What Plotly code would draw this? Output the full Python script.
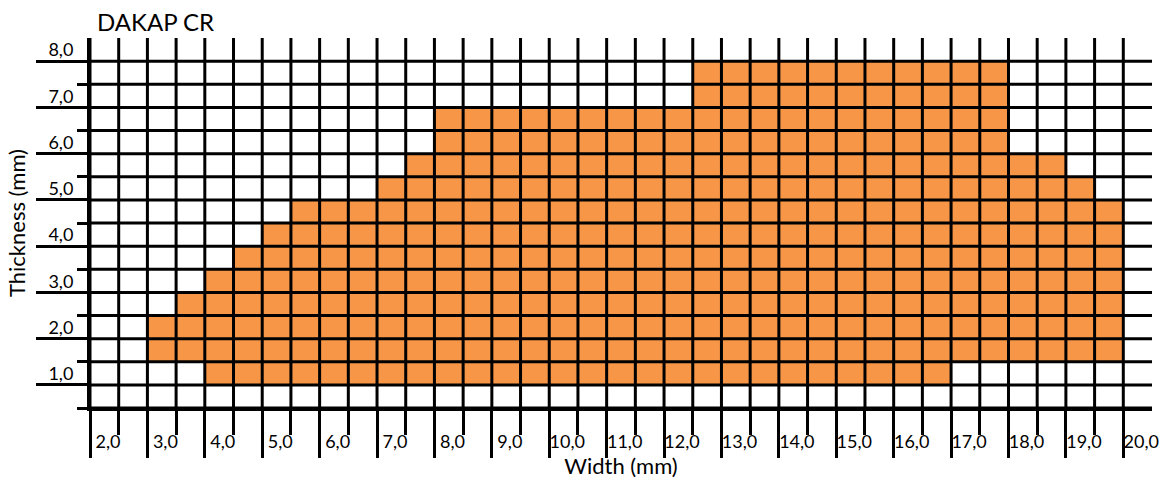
import plotly.graph_objects as go

# ---- data ----
widths = [2.0, 2.5, 3.0, 3.5, 4.0, 4.5, 5.0, 5.5, 6.0, 6.5, 7.0, 7.5, 8.0, 8.5, 9.0, 9.5,
          10.0, 10.5, 11.0, 11.5, 12.0, 12.5, 13.0, 13.5, 14.0, 14.5, 15.0, 15.5, 16.0,
          16.5, 17.0, 17.5, 18.0, 18.5, 19.0, 19.5, 20.0]
thicknesses = [0.5, 1.0, 1.5, 2.0, 2.5, 3.0, 3.5, 4.0, 4.5, 5.0, 5.5, 6.0, 6.5, 7.0, 7.5, 8.0]
# available thickness range per width (None = not available)
t_min = [None, None, 1.5, 1.5, 1.0, 1.0, 1.0, 1.0, 1.0, 1.0, 1.0, 1.0, 1.0, 1.0, 1.0, 1.0,
         1.0, 1.0, 1.0, 1.0, 1.0, 1.0, 1.0, 1.0, 1.0, 1.0, 1.0, 1.0, 1.0,
         1.0, 1.5, 1.5, 1.5, 1.5, 1.5, 1.5, None]
t_max = [None, None, 2.0, 2.5, 3.0, 3.5, 4.0, 4.5, 4.5, 4.5, 5.0, 5.5, 6.5, 6.5, 6.5, 6.5,
         6.5, 6.5, 6.5, 6.5, 6.5, 7.5, 7.5, 7.5, 7.5, 7.5, 7.5, 7.5, 7.5,
         7.5, 7.5, 7.5, 5.5, 5.5, 5.0, 4.5, None]
x_labels = ["2,0", "3,0", "4,0", "5,0", "6,0", "7,0", "8,0", "9,0", "10,0", "11,0",
            "12,0", "13,0", "14,0", "15,0", "16,0", "17,0", "18,0", "19,0", "20,0"]
y_labels = ["1,0", "2,0", "3,0", "4,0", "5,0", "6,0", "7,0", "8,0"]

z = [[(1 if (lo is not None and lo <= t <= hi) else None)
      for lo, hi in zip(t_min, t_max)] for t in thicknesses]

# cell boundaries (grid positions)
x_major = [w - 0.25 for w in widths if w == int(w)]
x_minor = [w - 0.25 for w in widths if w != int(w)]
y_major = [t - 0.25 for t in thicknesses if t == int(t)]
y_minor = [t - 0.25 for t in thicknesses if t != int(t)]

FONT = "Lato"
ORANGE = "#F79646"

fig = go.Figure(go.Heatmap(
    x=widths, y=thicknesses, z=z,
    colorscale=[[0, ORANGE], [1, ORANGE]], zmin=0, zmax=1,
    showscale=False, hoverinfo="skip",
))

# grid lines on top of the cells
for b in x_major + x_minor:
    fig.add_vline(x=b, line=dict(color="black", width=3), layer="above")
for b in y_major + y_minor:
    fig.add_hline(y=b, line=dict(color="black", width=3), layer="above")

fig.update_layout(
    width=1168, height=482,
    margin=dict(l=90, r=16, t=38, b=74),
    paper_bgcolor="white", plot_bgcolor="white",
    font=dict(family=FONT, color="black"),
    title=dict(text="DAKAP CR", x=97 / 1168, xref="container", xanchor="left",
               y=1 - 23 / 482, yref="container", yanchor="middle",
               font=dict(size=24, family=FONT, color="black")),
    showlegend=False,
)

fig.update_xaxes(
    range=[widths[0] - 0.25, widths[-1] + 0.25],
    automargin=False,
    tickmode="array", tickvals=x_major, ticktext=x_labels,
    ticks="outside", ticklen=47, tickwidth=3, tickcolor="black",
    ticklabelshift=18, ticklabelstandoff=-32,
    tickfont=dict(size=18, family=FONT, color="black"),
    showgrid=False,
    minor=dict(tickmode="array", tickvals=x_minor, ticks="outside", ticklen=24,
               tickwidth=3, tickcolor="black", showgrid=False),
    showline=True, linecolor="black", linewidth=3,
    zeroline=False,
    title=dict(text="Width (mm)", font=dict(size=22, family=FONT, color="black"), standoff=6),
)
fig.update_yaxes(
    range=[thicknesses[0] - 0.25, thicknesses[-1] + 0.25],
    automargin=False,
    tickmode="array", tickvals=y_major, ticktext=y_labels,
    ticks="outside", ticklen=51, tickwidth=3, tickcolor="black",
    ticklabelshift=-11, ticklabelstandoff=-41,
    tickfont=dict(size=18, family=FONT, color="black"),
    showgrid=False,
    minor=dict(tickmode="array", tickvals=y_minor, ticks="outside", ticklen=10,
               tickwidth=3, tickcolor="black", showgrid=False),
    showline=True, linecolor="black", linewidth=3,
    zeroline=False,
    title=dict(text="Thickness (mm)", font=dict(size=22, family=FONT, color="black"), standoff=17),
)

fig.write_html("out.html", config={"displayModeBar": False},
               post_script="document.body.style.margin='0';")
